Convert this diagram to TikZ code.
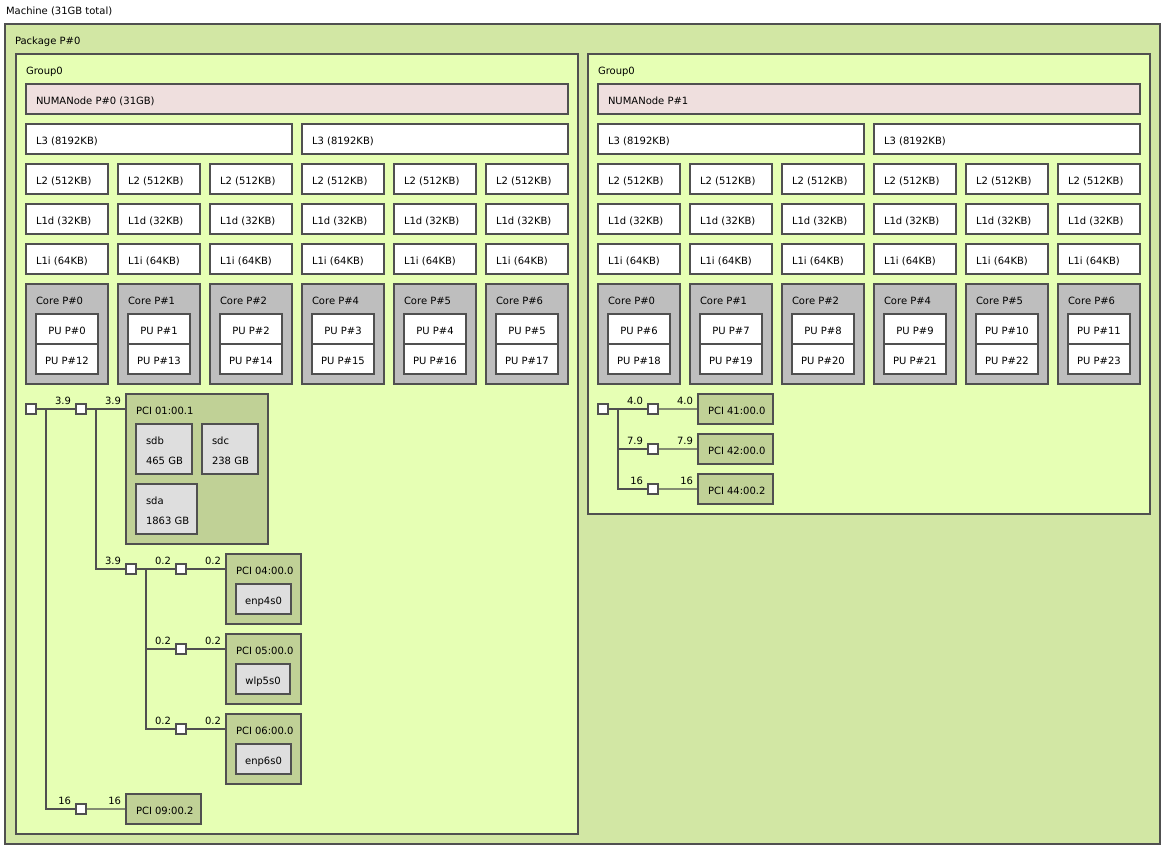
\documentclass[tikz,border=0pt]{standalone}
\usepackage{fontspec}
\setmainfont{DejaVu Sans}
\usetikzlibrary{calc}
\definecolor{pkgc}{HTML}{D2E7A4}
\definecolor{grpc}{HTML}{E6FFB4}
\definecolor{numac}{HTML}{EFDFDE}
\definecolor{corec}{HTML}{BEBEBE}
\definecolor{pcic}{HTML}{C0D196}
\definecolor{osc}{HTML}{DEDEDE}
\definecolor{linec}{HTML}{505050}
\tikzset{
 obj/.style={draw=linec, line width=1.2bp, inner sep=0pt, outer sep=0pt, anchor=north west},
 lbl/.style={inner sep=0pt, outer sep=0pt, font=\fontsize{10bp}{12bp}\selectfont, anchor=base west, text=black},
 link/.style={draw=linec, line width=1.2bp},
 bridge/.style={obj, fill=white, minimum width=10bp, minimum height=10bp},
}
\newcommand\mkbox[6]{\node[obj,#2,minimum width=#5bp,minimum height=#6bp] (#1) at (#3,#4) {};}
\newcommand\mklab[3]{\node[lbl] (#1) at ($(#2.north west)+(10,20)$) {#3};}
\newcommand\mkctr[3]{\node[lbl,anchor=base] (#1) at ($(#2.center)+(0,5)$) {#3};}
\newcommand\mkspd[3]{\node[lbl,anchor=base east] (#1) at ($(#2)+(-5,-5)$) {#3};}
\begin{document}
\begin{tikzpicture}[x=1bp,y=-1bp]
\fill[white] (0,0) rectangle (1169,852);
\useasboundingbox (0,0) rectangle (1169,852);
\node[lbl] (mt) at (6,14) {Machine (31GB total)};
\mkbox{pkg}{fill=pkgc}{5}{24}{1155}{820}
\mklab{pkgt}{pkg}{Package P\#0}
\mkbox{grpL}{fill=grpc}{16}{54}{562}{780}
\mkbox{grpR}{fill=grpc}{588}{54}{562}{460}
\mkbox{numaL}{fill=numac}{26}{84}{542}{30}
\mklab{numaLt}{numaL}{NUMANode P\#0 (31GB)}
\mkbox{numaR}{fill=numac}{598}{84}{542}{30}
\mklab{numaRt}{numaR}{NUMANode P\#1}
\foreach \g/\ox/\pb in {L/0/0,R/572/6}{
  \mklab{grpt\g}{grp\g}{Group0}
  \mkbox{lthreea\g}{fill=white}{26+\ox}{124}{266}{30}
  \mklab{lthreeat\g}{lthreea\g}{L3 (8192KB)}
  \mkbox{lthreeb\g}{fill=white}{302+\ox}{124}{266}{30}
  \mklab{lthreebt\g}{lthreeb\g}{L3 (8192KB)}
  \foreach \i/\c in {0/0,1/1,2/2,3/4,4/5,5/6}{
    \pgfmathsetmacro\xx{26+\ox+92*\i}
    \pgfmathtruncatemacro\pa{\pb+\i}
    \pgfmathtruncatemacro\pc{\pb+\i+12}
    \mkbox{ltwo\g\i}{fill=white}{\xx}{164}{82}{30}
    \mklab{ltwot\g\i}{ltwo\g\i}{L2 (512KB)}
    \mkbox{lod\g\i}{fill=white}{\xx}{204}{82}{30}
    \mklab{lodt\g\i}{lod\g\i}{L1d (32KB)}
    \mkbox{loi\g\i}{fill=white}{\xx}{244}{82}{30}
    \mklab{loit\g\i}{loi\g\i}{L1i (64KB)}
    \mkbox{core\g\i}{fill=corec}{\xx}{284}{82}{100}
    \mklab{coret\g\i}{core\g\i}{Core P\#\c}
    \mkbox{pua\g\i}{fill=white}{\xx+10}{314}{62}{30}
    \mkctr{puat\g\i}{pua\g\i}{PU P\#\pa}
    \mkbox{pub\g\i}{fill=white}{\xx+10}{344}{62}{30}
    \mkctr{pubt\g\i}{pub\g\i}{PU P\#\pc}
  }
}
% ---------- left PCI tree
\node[bridge] (hb0) at (26,404) {};
\node[bridge] (b1) at (76,404) {};
\mkbox{pcia}{fill=pcic}{126}{394}{142}{150}
\mklab{pciat}{pcia}{PCI 01:00.1}
\mkbox{sdb}{fill=osc}{136}{424}{56}{50}
\mklab{sdbt}{sdb}{sdb}
\node[lbl] (sdbs) at ($(sdb.north west)+(10,40)$) {465 GB};
\mkbox{sdc}{fill=osc}{202}{424}{56}{50}
\mklab{sdct}{sdc}{sdc}
\node[lbl] (sdcs) at ($(sdc.north west)+(10,40)$) {238 GB};
\mkbox{sda}{fill=osc}{136}{484}{61}{50}
\mklab{sdat}{sda}{sda}
\node[lbl] (sdas) at ($(sda.north west)+(10,40)$) {1863 GB};
\node[bridge] (b2) at (126,564) {};
\node[bridge] (b3) at (176,564) {};
\node[bridge] (b4) at (176,644) {};
\node[bridge] (b5) at (176,724) {};
\node[bridge] (b6) at (76,804) {};
\mkbox{pcib}{fill=pcic}{226}{554}{75}{70}
\mklab{pcibt}{pcib}{PCI 04:00.0}
\mkbox{ethA}{fill=osc}{236}{584}{55}{30}
\mkctr{ethAt}{ethA}{enp4s0}
\mkbox{pcic}{fill=pcic}{226}{634}{75}{70}
\mklab{pcict}{pcic}{PCI 05:00.0}
\mkbox{wlan}{fill=osc}{236}{664}{54}{30}
\mkctr{wlant}{wlan}{wlp5s0}
\mkbox{pcid}{fill=pcic}{226}{714}{75}{70}
\mklab{pcidt}{pcid}{PCI 06:00.0}
\mkbox{ethB}{fill=osc}{236}{744}{55}{30}
\mkctr{ethBt}{ethB}{enp6s0}
\mkbox{pcie}{fill=pcic}{126}{794}{75}{30}
\mklab{pciet}{pcie}{PCI 09:00.2}
\draw[link] (hb0.east) -- (b1.west);
\mkspd{s1}{b1.west}{3.9}
\draw[link] (b1.east) -- (b1.east -| pcia.west);
\mkspd{s2}{b1.east -| pcia.west}{3.9}
\draw[link] ($(b1.east)+(10,0)$) |- (b2.west);
\mkspd{s3}{b2.west}{3.9}
\draw[link] (b2.east) -- (b3.west);
\mkspd{s4}{b3.west}{0.2}
\draw[link] (b3.east) -- (b3.east -| pcib.west);
\mkspd{s5}{b3.east -| pcib.west}{0.2}
\draw[link] ($(b2.east)+(10,0)$) |- (b4.west);
\draw[link] ($(b2.east)+(10,0)$) |- (b5.west);
\mkspd{s6}{b4.west}{0.2}
\mkspd{s7}{b5.west}{0.2}
\draw[link] (b4.east) -- (b4.east -| pcic.west);
\mkspd{s8}{b4.east -| pcic.west}{0.2}
\draw[link] (b5.east) -- (b5.east -| pcid.west);
\mkspd{s9}{b5.east -| pcid.west}{0.2}
\draw[link] ($(hb0.east)+(10,0)$) |- (b6.west);
\mkspd{s10}{b6.west}{16}
\draw[link] (b6.east) -- (pcie.west);
\mkspd{s11}{pcie.west}{16}
% ---------- right PCI tree
\node[bridge] (hb1) at (598,404) {};
\node[bridge] (c1) at (648,404) {};
\node[bridge] (c2) at (648,444) {};
\node[bridge] (c3) at (648,484) {};
\mkbox{pcif}{fill=pcic}{698}{394}{75}{30}
\mklab{pcift}{pcif}{PCI 41:00.0}
\mkbox{pcig}{fill=pcic}{698}{434}{75}{30}
\mklab{pcigt}{pcig}{PCI 42:00.0}
\mkbox{pcih}{fill=pcic}{698}{474}{75}{30}
\mklab{pciht}{pcih}{PCI 44:00.2}
\draw[link] (hb1.east) -- (c1.west);
\mkspd{r1}{c1.west}{4.0}
\draw[link] (c1.east) -- (pcif.west);
\mkspd{r2}{pcif.west}{4.0}
\draw[link] ($(hb1.east)+(10,0)$) |- (c2.west);
\draw[link] ($(hb1.east)+(10,0)$) |- (c3.west);
\mkspd{r3}{c2.west}{7.9}
\mkspd{r4}{c3.west}{16}
\draw[link] (c2.east) -- (pcig.west);
\mkspd{r5}{pcig.west}{7.9}
\draw[link] (c3.east) -- (pcih.west);
\mkspd{r6}{pcih.west}{16}
\end{tikzpicture}
\end{document}
